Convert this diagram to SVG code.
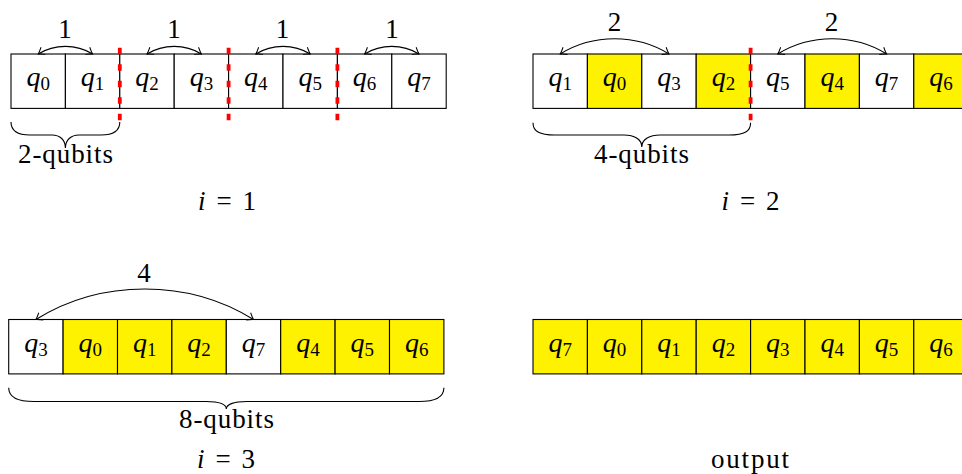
<svg xmlns="http://www.w3.org/2000/svg" width="962" height="474" viewBox="0 0 962 474">
<style>
.c{stroke:#000;stroke-width:1.1;fill:#fff}
.y{fill:#fff200}
.q{font-family:"Liberation Serif",serif;font-style:italic;font-size:28px;fill:#000}
.s{font-size:19px;font-style:normal}
.t{font-family:"Liberation Serif",serif;font-size:27px;fill:#000}
.a{fill:none;stroke:#000;stroke-width:1.1}
.r{stroke:#ff0000;stroke-width:3.8;stroke-dasharray:6.5 10}
.b{fill:none;stroke:#000;stroke-width:1.1}
</style>
<defs>
<marker id="ah" markerUnits="userSpaceOnUse" orient="auto-start-reverse" refX="0" refY="0" markerWidth="20" markerHeight="20" overflow="visible">
<path d="M -6 -4.2 Q -2 -1 0 0 Q -2 1 -6 4.2" fill="none" stroke="#000" stroke-width="1"/>
</marker>
</defs>

<!-- Panel 1 -->
<g id="p1">
<g id="p1c0"><rect class="c" x="11" y="54" width="54.4" height="54.4"/><text class="q" x="38.2" y="86" text-anchor="middle">q<tspan class="s" dy="4">0</tspan></text></g>
<g id="p1c1"><rect class="c" x="65.4" y="54" width="54.4" height="54.4"/><text class="q" x="92.6" y="86" text-anchor="middle">q<tspan class="s" dy="4">1</tspan></text></g>
<g id="p1c2"><rect class="c" x="119.8" y="54" width="54.4" height="54.4"/><text class="q" x="147" y="86" text-anchor="middle">q<tspan class="s" dy="4">2</tspan></text></g>
<g id="p1c3"><rect class="c" x="174.2" y="54" width="54.4" height="54.4"/><text class="q" x="201.4" y="86" text-anchor="middle">q<tspan class="s" dy="4">3</tspan></text></g>
<g id="p1c4"><rect class="c" x="228.6" y="54" width="54.4" height="54.4"/><text class="q" x="255.8" y="86" text-anchor="middle">q<tspan class="s" dy="4">4</tspan></text></g>
<g id="p1c5"><rect class="c" x="283" y="54" width="54.4" height="54.4"/><text class="q" x="310.2" y="86" text-anchor="middle">q<tspan class="s" dy="4">5</tspan></text></g>
<g id="p1c6"><rect class="c" x="337.4" y="54" width="54.4" height="54.4"/><text class="q" x="364.6" y="86" text-anchor="middle">q<tspan class="s" dy="4">6</tspan></text></g>
<g id="p1c7"><rect class="c" x="391.8" y="54" width="54.4" height="54.4"/><text class="q" x="419" y="86" text-anchor="middle">q<tspan class="s" dy="4">7</tspan></text></g>
<line class="r" x1="119.8" y1="47.7" x2="119.8" y2="120.7"/>
<line class="r" x1="228.6" y1="47.7" x2="228.6" y2="120.7"/>
<line class="r" x1="337.4" y1="47.7" x2="337.4" y2="120.7"/>
<path class="b" d="M 11 122 C 11 130, 16 135, 30 135 L 52 135 C 60 135, 65.4 140, 65.4 148 C 65.4 140, 71 135, 79 135 L 101 135 C 115 135, 119.8 130, 119.8 122"/>
<text class="t" x="65.5" y="163" text-anchor="middle" textLength="95" lengthAdjust="spacing">2-qubits</text>
<text class="t" x="65" y="38" text-anchor="middle">1</text>
<text class="t" x="174" y="38" text-anchor="middle">1</text>
<text class="t" x="282.5" y="38" text-anchor="middle">1</text>
<text class="t" x="392" y="38" text-anchor="middle">1</text>
<text class="t" x="227" y="209.5" text-anchor="middle" textLength="58" lengthAdjust="spacing"><tspan font-style="italic">i</tspan> = 1</text>
</g>

<!-- Panel 2 -->
<g id="p2">
<g id="p2c0"><rect class="c" x="533" y="54" width="54.4" height="54.4"/><text class="q" x="560.2" y="86" text-anchor="middle">q<tspan class="s" dy="4">1</tspan></text></g>
<g id="p2c1"><rect class="c y" x="587.4" y="54" width="54.4" height="54.4"/><text class="q" x="614.6" y="86" text-anchor="middle">q<tspan class="s" dy="4">0</tspan></text></g>
<g id="p2c2"><rect class="c" x="641.8" y="54" width="54.4" height="54.4"/><text class="q" x="669" y="86" text-anchor="middle">q<tspan class="s" dy="4">3</tspan></text></g>
<g id="p2c3"><rect class="c y" x="696.2" y="54" width="54.4" height="54.4"/><text class="q" x="723.4" y="86" text-anchor="middle">q<tspan class="s" dy="4">2</tspan></text></g>
<g id="p2c4"><rect class="c" x="750.6" y="54" width="54.4" height="54.4"/><text class="q" x="777.8" y="86" text-anchor="middle">q<tspan class="s" dy="4">5</tspan></text></g>
<g id="p2c5"><rect class="c y" x="805" y="54" width="54.4" height="54.4"/><text class="q" x="832.2" y="86" text-anchor="middle">q<tspan class="s" dy="4">4</tspan></text></g>
<g id="p2c6"><rect class="c" x="859.4" y="54" width="54.4" height="54.4"/><text class="q" x="886.6" y="86" text-anchor="middle">q<tspan class="s" dy="4">7</tspan></text></g>
<g id="p2c7"><rect class="c y" x="913.8" y="54" width="54.4" height="54.4"/><text class="q" x="941" y="86" text-anchor="middle">q<tspan class="s" dy="4">6</tspan></text></g>
<line class="r" x1="750.6" y1="47.7" x2="750.6" y2="120.7"/>
<path class="b" d="M 533 122.7 C 533 131, 539 135, 555 135 L 624 135 C 634 135, 641.8 139, 641.8 147 C 641.8 139, 650 135, 660 135 L 729 135 C 745 135, 750.6 131, 750.6 122.7"/>
<text class="t" x="641.5" y="163" text-anchor="middle" textLength="95" lengthAdjust="spacing">4-qubits</text>
<text class="t" x="614.5" y="31" text-anchor="middle">2</text>
<text class="t" x="831.5" y="31" text-anchor="middle">2</text>
<text class="t" x="750.5" y="209.5" text-anchor="middle" textLength="58" lengthAdjust="spacing"><tspan font-style="italic">i</tspan> = 2</text>
</g>

<!-- Panel 3 -->
<g id="p3">
<g id="p3c0"><rect class="c" x="8.7" y="319.5" width="54.4" height="54.4"/><text class="q" x="35.9" y="351.5" text-anchor="middle">q<tspan class="s" dy="4">3</tspan></text></g>
<g id="p3c1"><rect class="c y" x="63.1" y="319.5" width="54.4" height="54.4"/><text class="q" x="90.3" y="351.5" text-anchor="middle">q<tspan class="s" dy="4">0</tspan></text></g>
<g id="p3c2"><rect class="c y" x="117.5" y="319.5" width="54.4" height="54.4"/><text class="q" x="144.7" y="351.5" text-anchor="middle">q<tspan class="s" dy="4">1</tspan></text></g>
<g id="p3c3"><rect class="c y" x="171.9" y="319.5" width="54.4" height="54.4"/><text class="q" x="199.1" y="351.5" text-anchor="middle">q<tspan class="s" dy="4">2</tspan></text></g>
<g id="p3c4"><rect class="c" x="226.3" y="319.5" width="54.4" height="54.4"/><text class="q" x="253.5" y="351.5" text-anchor="middle">q<tspan class="s" dy="4">7</tspan></text></g>
<g id="p3c5"><rect class="c y" x="280.7" y="319.5" width="54.4" height="54.4"/><text class="q" x="307.9" y="351.5" text-anchor="middle">q<tspan class="s" dy="4">4</tspan></text></g>
<g id="p3c6"><rect class="c y" x="335.1" y="319.5" width="54.4" height="54.4"/><text class="q" x="362.3" y="351.5" text-anchor="middle">q<tspan class="s" dy="4">5</tspan></text></g>
<g id="p3c7"><rect class="c y" x="389.5" y="319.5" width="54.4" height="54.4"/><text class="q" x="416.7" y="351.5" text-anchor="middle">q<tspan class="s" dy="4">6</tspan></text></g>
<path class="b" d="M 8.7 387.7 C 8.7 396, 16 401.5, 34 401.5 L 206 401.5 C 218 401.5, 226.3 404, 226.3 409 C 226.3 404, 235 401.5, 247 401.5 L 419 401.5 C 437 401.5, 443.9 396, 443.9 387.7"/>
<text class="t" x="226.5" y="428" text-anchor="middle" textLength="95" lengthAdjust="spacing">8-qubits</text>
<text class="t" x="144" y="282" text-anchor="middle">4</text>
<text class="t" x="226" y="468" text-anchor="middle" textLength="58" lengthAdjust="spacing"><tspan font-style="italic">i</tspan> = 3</text>
</g>

<!-- Panel 4 -->
<g id="p4">
<g id="p4c0"><rect class="c y" x="533" y="319.5" width="54.4" height="54.4"/><text class="q" x="560.2" y="351.5" text-anchor="middle">q<tspan class="s" dy="4">7</tspan></text></g>
<g id="p4c1"><rect class="c y" x="587.4" y="319.5" width="54.4" height="54.4"/><text class="q" x="614.6" y="351.5" text-anchor="middle">q<tspan class="s" dy="4">0</tspan></text></g>
<g id="p4c2"><rect class="c y" x="641.8" y="319.5" width="54.4" height="54.4"/><text class="q" x="669" y="351.5" text-anchor="middle">q<tspan class="s" dy="4">1</tspan></text></g>
<g id="p4c3"><rect class="c y" x="696.2" y="319.5" width="54.4" height="54.4"/><text class="q" x="723.4" y="351.5" text-anchor="middle">q<tspan class="s" dy="4">2</tspan></text></g>
<g id="p4c4"><rect class="c y" x="750.6" y="319.5" width="54.4" height="54.4"/><text class="q" x="777.8" y="351.5" text-anchor="middle">q<tspan class="s" dy="4">3</tspan></text></g>
<g id="p4c5"><rect class="c y" x="805" y="319.5" width="54.4" height="54.4"/><text class="q" x="832.2" y="351.5" text-anchor="middle">q<tspan class="s" dy="4">4</tspan></text></g>
<g id="p4c6"><rect class="c y" x="859.4" y="319.5" width="54.4" height="54.4"/><text class="q" x="886.6" y="351.5" text-anchor="middle">q<tspan class="s" dy="4">5</tspan></text></g>
<g id="p4c7"><rect class="c y" x="913.8" y="319.5" width="54.4" height="54.4"/><text class="q" x="941" y="351.5" text-anchor="middle">q<tspan class="s" dy="4">6</tspan></text></g>
<text class="t" x="750" y="468" text-anchor="middle" textLength="78" lengthAdjust="spacing">output</text>
</g>

<!-- Connectors -->
<g id="connectors">
<path class="a" marker-start="url(#ah)" marker-end="url(#ah)" d="M 38.2 54 C 54.5 43.8, 76.3 43.8, 92.6 54"/>
<path class="a" marker-start="url(#ah)" marker-end="url(#ah)" d="M 147 54 C 163.3 43.8, 185.1 43.8, 201.4 54"/>
<path class="a" marker-start="url(#ah)" marker-end="url(#ah)" d="M 255.8 54 C 272.1 43.8, 293.9 43.8, 310.2 54"/>
<path class="a" marker-start="url(#ah)" marker-end="url(#ah)" d="M 364.6 54 C 380.9 43.8, 402.7 43.8, 419 54"/>
<path class="a" marker-start="url(#ah)" marker-end="url(#ah)" d="M 560.2 54 C 592.8 33.7, 636.4 33.7, 669 54"/>
<path class="a" marker-start="url(#ah)" marker-end="url(#ah)" d="M 777.8 54 C 810.4 33.7, 854 33.7, 886.6 54"/>
<path class="a" marker-start="url(#ah)" marker-end="url(#ah)" d="M 35.9 319.5 C 101.2 278.8, 188.2 278.8, 253.5 319.5"/>
</g>
</svg>
